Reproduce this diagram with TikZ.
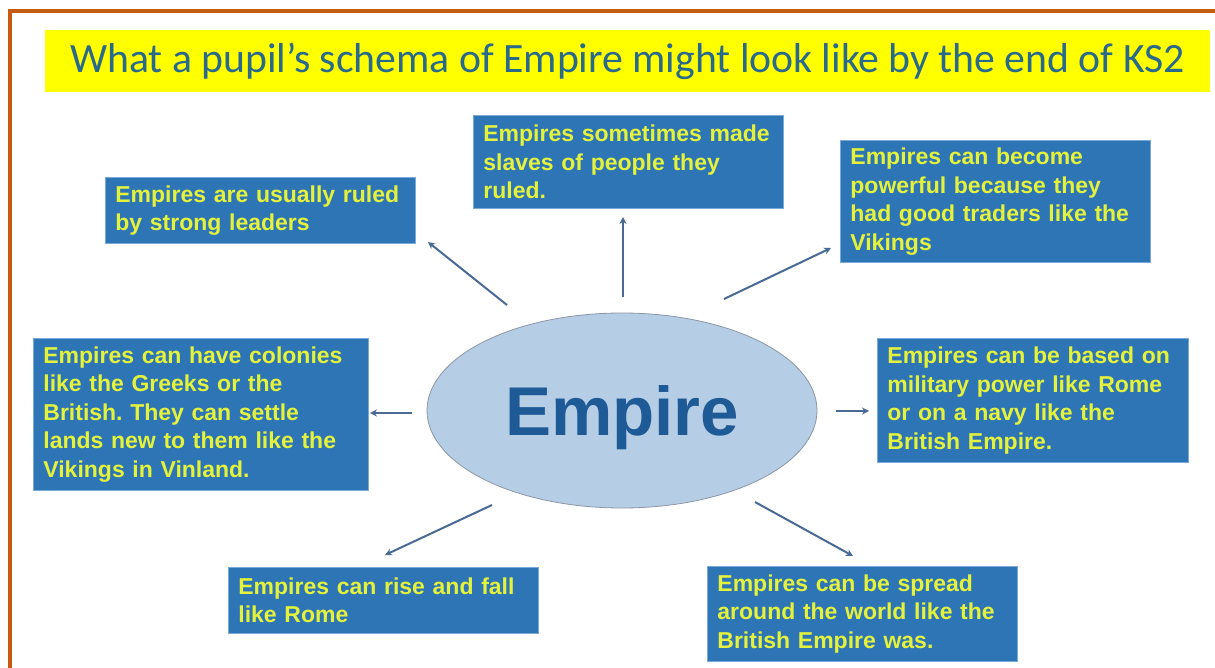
\documentclass[tikz,border=0pt]{standalone}
\usepackage{fontspec}
\setmainfont{Liberation Sans}
\newfontfamily\titlefont{Carlito}
\usetikzlibrary{arrows.meta,shapes.geometric}
\definecolor{framecol}{RGB}{197,90,17}
\definecolor{titleyellow}{RGB}{255,255,0}
\definecolor{titletext}{RGB}{40,105,140}
\definecolor{boxblue}{RGB}{46,117,182}
\definecolor{boxedge}{RGB}{120,170,220}
\definecolor{boxtext}{RGB}{228,242,60}
\definecolor{ellfill}{RGB}{182,205,230}
\definecolor{ellborder}{RGB}{140,150,165}
\definecolor{empiretext}{RGB}{30,90,150}
\definecolor{arrowcol}{RGB}{74,106,150}
\frenchspacing
\begin{document}
\begin{tikzpicture}[x=1pt,y=-1pt,
  infobox/.style={draw=boxedge, line width=0.8pt, fill=boxblue, text=boxtext,
    anchor=north west, inner xsep=10pt, inner ysep=0pt, align=left,
    font=\fontsize{23}{28.5}\selectfont\bfseries},
  link/.style={draw=arrowcol, line width=2pt, -{Stealth[length=7pt,width=7pt]}}]
\useasboundingbox (0,0) rectangle (1215,668);
\fill[white] (0,0) rectangle (1215,668);
% frame
\draw[framecol, line width=4pt, line join=miter] (9.5,668) -- (9.5,11.5) -- (1215,11.5);
% title
\node[fill=titleyellow, minimum width=1165pt, minimum height=62pt, inner sep=0pt,
  font=\titlefont\fontsize{41.7}{44}\selectfont, text=titletext] (title) at (627.5,61)
  {What a pupil’s schema of Empire might look like by the end of KS2};
% centre
\node[ellipse, draw=ellborder, line width=0.8pt, fill=ellfill, minimum width=390pt,
  minimum height=195pt, inner sep=0pt, text depth=0pt, font=\fontsize{69}{70}\selectfont\bfseries,
  text=empiretext] (emp) at (622,410.5) {Empire};
% boxes
\node[infobox, text width=290pt, minimum height=66pt] (b1) at (105,177)
  {Empires are usually ruled\\by strong leaders};
\node[infobox, text width=290pt, minimum height=93pt] (b2) at (473,115)
  {Empires sometimes made\\slaves of people they\\ruled.};
\node[infobox, text width=290pt, minimum height=122pt] (b3) at (840,140)
  {Empires can become\\powerful because they\\had good traders like the\\Vikings};
\node[infobox, text width=315pt, minimum height=152pt] (b4) at (33,338)
  {Empires can have colonies\\like the Greeks or the\\British. They can settle\\lands new to them like the\\Vikings in Vinland.};
\node[infobox, text width=291pt, minimum height=124pt] (b5) at (877,338)
  {Empires can be based on\\military power like Rome\\or on a navy like the\\British Empire.};
\node[infobox, text width=290pt, minimum height=66pt] (b6) at (228,567)
  {Empires can rise and fall\\like Rome};
\node[infobox, text width=290pt, minimum height=95pt] (b7) at (707,566)
  {Empires can be spread\\around the world like the\\British Empire was.};
% connector end points
\coordinate (s1) at (507,305); \coordinate (e1) at (428,242);
\coordinate (s2) at (623,297); \coordinate (e2) at (623,217);
\coordinate (s3) at (724,299); \coordinate (e3) at (831,248);
\coordinate (s4) at (412,413); \coordinate (e4) at (370,413);
\coordinate (s5) at (836,411); \coordinate (e5) at (869,411);
\coordinate (s6) at (492,505); \coordinate (e6) at (385,555);
\coordinate (s7) at (755,502); \coordinate (e7) at (853,556);
\foreach \i in {1,...,7} {\draw[link] (s\i) -- (e\i);}
\end{tikzpicture}
\end{document}
